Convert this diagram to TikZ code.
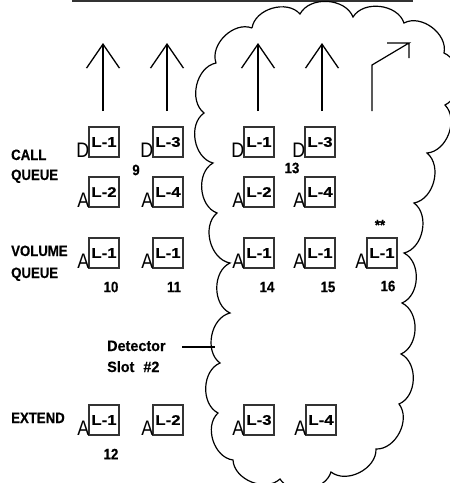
\documentclass[tikz,border=0pt]{standalone}
\usepackage{fontspec}
\setmainfont{Liberation Sans}
\newfontfamily\cadfont[FakeStretch = 0.88, FakeBold = 0.4]{Liberation Sans Bold}
\newfontfamily\notefont[FakeStretch = 0.96, FakeBold = 0.4]{Liberation Sans Bold}
\newfontfamily\lampfont[FakeStretch = 1.2, FakeBold = 0.4]{Liberation Sans Bold}
\newfontfamily\phasefont[FakeStretch = 0.85]{Liberation Sans}
\usetikzlibrary{arrows.meta, positioning}

\begin{document}
\begin{tikzpicture}[
        x = 1pt, y = -1pt,
        >= {Straight Barb[length = 24pt, width = 33pt, line width = 1.3pt]},
        lamp/.style = {draw = black!80, line width = 1.1pt, minimum size = 30pt, inner sep = 0pt, font = \fontsize{14}{14}\lampfont},
        phase/.style = {anchor = south east, inner sep = 0pt, xshift = 1pt, font = \fontsize{21}{21}\phasefont},
        tag/.style = {font = \fontsize{15}{15}\cadfont, inner sep = 0pt},
        rowname/.style = {tag, anchor = base west},
        note/.style = {rowname, font = \fontsize{15}{15}\notefont},
        lobe/.style = {bend left = 65},
        wire/.style = {line width = 1.2pt}
    ]
      \useasboundingbox (0,0) rectangle (450,483);
      \clip (0,0) rectangle (450,483);

      \coordinate (barL) at (72,1);
      \coordinate (barR) at (413,1);
      \draw[line width = 2pt, black!80] (barL) -- (barR);

      \foreach \name/\x/\y/\lbl/\sig in {
          a/104/142/L-1/D, b/104/192/L-2/A, c/168/142/L-3/D, d/168/192/L-4/A,
          e/259/142/L-1/D, f/259/192/L-2/A, g/320/142/L-3/D, h/320/192/L-4/A,
          i/104/253/L-1/A, j/168/253/L-1/A, k/259/253/L-1/A, l/320/253/L-1/A, m/382/253/L-1/A,
          n/104/420/L-1/A, o/168/420/L-2/A, p/259/420/L-3/A, q/321/420/L-4/A} {
        \node[lamp] (\name) at (\x,\y) {\lbl};
        \node[phase] (\name sig) at (\name.south west) {\sig};
      }

      \foreach \name/\x in {one/103, two/167, three/258, four/322} {
        \coordinate (\name tail) at (\x,111);
        \coordinate (\name head) at (\x,43);
        \draw[wire, ->] (\name tail) -- (\name head);
      }

      \coordinate (turnA) at (372,111);
      \coordinate (turnB) at (372,65);
      \coordinate (turnC) at (409,43);
      \coordinate (turnD) at (387,43);
      \coordinate (turnE) at (409,58);
      \draw[wire] (turnA) -- (turnB) -- (turnC) -- (turnD) (turnC) -- (turnE);

      \node[rowname] (call) at (11,160) {CALL};
      \node[rowname] (callq) at (11,180) {QUEUE};
      \node[rowname] (vol) at (11,256) {VOLUME};
      \node[rowname] (volq) at (11,278) {QUEUE};
      \node[rowname] (ext) at (11,423) {EXTEND};
      \node[note] (det) at (107,351) {Detector};
      \node[note] (slot) at (107,372) {Slot\hspace{9pt}\#2};

      \node[tag] (n9) at (136,170) {9};
      \node[tag] (n13) at (292,168) {13};
      \node[tag] (n10) at (111,287) {10};
      \node[tag] (n11) at (174,287) {11};
      \node[tag] (n12) at (111,454) {12};
      \node[tag] (n14) at (267,287) {14};
      \node[tag] (n15) at (328,287) {15};
      \node[tag] (n16) at (388,286) {16};
      \node[tag] (stars) at (380,225) {**};

      \coordinate (c1) at (252,28);
      \coordinate (c2) at (300,14);
      \coordinate (c3) at (353,17);
      \coordinate (c4) at (404,23);
      \coordinate (c5) at (444,53);
      \coordinate (c6) at (445,105);
      \coordinate (c7) at (427,153);
      \coordinate (c8) at (414,203);
      \coordinate (c9) at (404,253);
      \coordinate (c10) at (402,303);
      \coordinate (c11) at (401,354);
      \coordinate (c12) at (399,404);
      \coordinate (c13) at (376,449);
      \coordinate (c14) at (331,472);
      \coordinate (c15) at (280,479);
      \coordinate (c16) at (233,460);
      \coordinate (c17) at (218,413);
      \coordinate (c18) at (220,363);
      \coordinate (c19) at (230,313);
      \coordinate (c20) at (230,263);
      \coordinate (c21) at (217,213);
      \coordinate (c22) at (213,163);
      \coordinate (c23) at (204,113);
      \coordinate (c24) at (216,63);

      \draw[wire] (c1) to[lobe] (c2) to[lobe] (c3) to[lobe] (c4) to[lobe] (c5) to[lobe] (c6)
        to[lobe] (c7) to[lobe] (c8) to[lobe] (c9) to[lobe] (c10) to[lobe] (c11) to[lobe] (c12)
        to[lobe] (c13) to[lobe] (c14) to[lobe] (c15) to[lobe] (c16) to[lobe] (c17) to[lobe] (c18)
        to[lobe] (c19) to[lobe] (c20) to[lobe] (c21) to[lobe] (c22) to[lobe] (c23) to[lobe] (c24)
        to[lobe] (c1);

      \coordinate (lead) at (182,347);
      \coordinate (leadend) at (215,347);
      \draw[wire] (lead) -- (leadend);
    \end{tikzpicture}
\end{document}
